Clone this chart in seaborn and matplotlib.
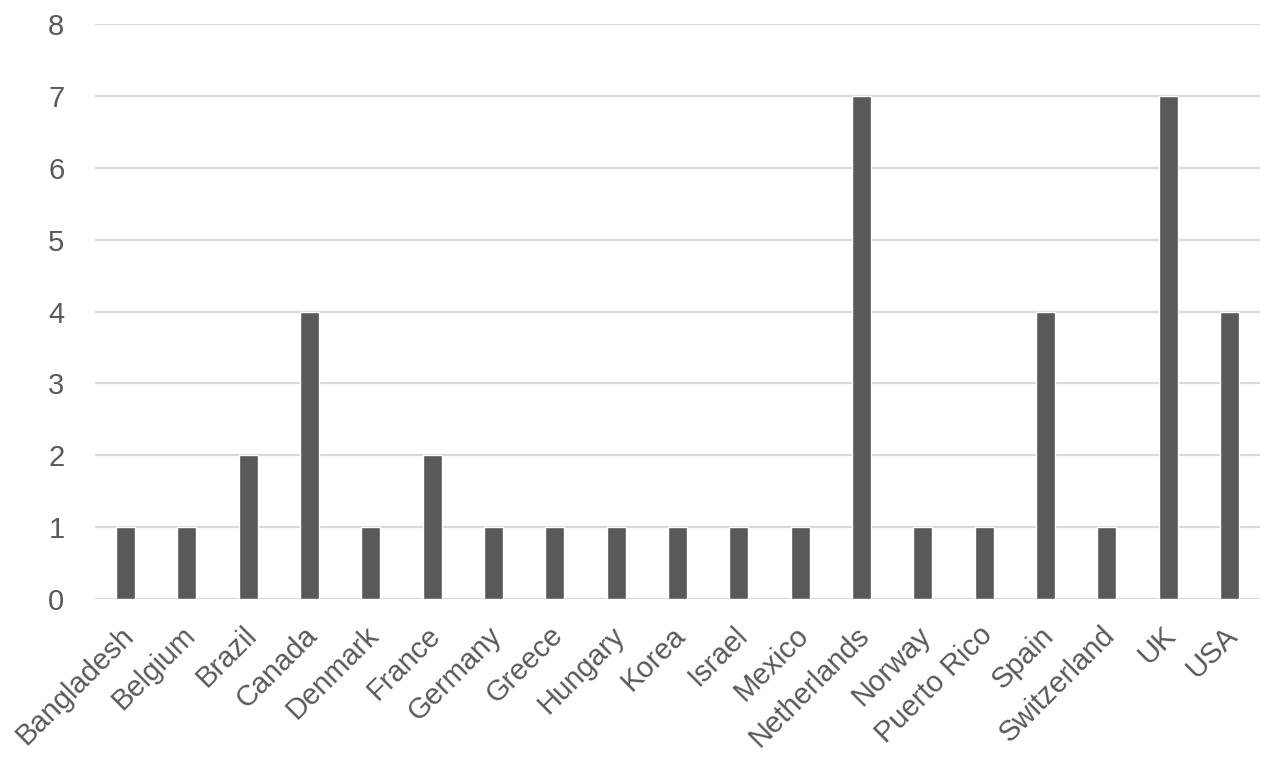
import pandas as pd
import matplotlib.pyplot as plt
import matplotlib.transforms as mtransforms
import seaborn as sns

# Chart data
countries = ["Bangladesh", "Belgium", "Brazil", "Canada", "Denmark", "France",
             "Germany", "Greece", "Hungary", "Korea", "Israel", "Mexico",
             "Netherlands", "Norway", "Puerto Rico", "Spain", "Switzerland",
             "UK", "USA"]
counts = [1, 1, 2, 4, 1, 2, 1, 1, 1, 1, 1, 1, 7, 1, 1, 4, 1, 7, 4]
y_ticks = [0, 1, 2, 3, 4, 5, 6, 7, 8]

df = pd.DataFrame({"country": countries, "count": counts})

sns.set_theme(style="white")
plt.rcParams["font.family"] = ["Liberation Sans", "DejaVu Sans"]

text_color = "#595959"
grid_color = "#d9d9d9"

fig = plt.figure(figsize=(12.72, 7.6), dpi=100)
ax = fig.add_axes([0.0747, 0.212, 0.9159, 0.756])

sns.barplot(data=df, x="country", y="count", color="#595959", width=0.31,
            saturation=1, ax=ax, zorder=3)

ax.set_ylim(0, 8)
ax.set_xlim(-0.5, len(countries) - 0.5)
ax.set_yticks(y_ticks)
ax.yaxis.grid(True, color=grid_color, linewidth=1.6, zorder=0)
ax.set_axisbelow(True)
for s in ax.spines.values():
    s.set_visible(False)

ax.set_xlabel("")
ax.set_ylabel("")
ax.tick_params(axis="both", length=0, colors=text_color, labelsize=21)
ax.tick_params(axis="y", pad=22)
ax.set_xticks(range(len(countries)))
ax.set_xticklabels(countries, rotation=45, ha="right", rotation_mode="anchor",
                   fontsize=21)
ax.tick_params(axis="x", pad=16)

# nudge the rotated labels a little to the left
offset = mtransforms.ScaledTranslation(-6 / 100, 0, fig.dpi_scale_trans)
for lbl in ax.get_xticklabels():
    lbl.set_transform(lbl.get_transform() + offset)

fig.savefig("out.png", dpi=100)
